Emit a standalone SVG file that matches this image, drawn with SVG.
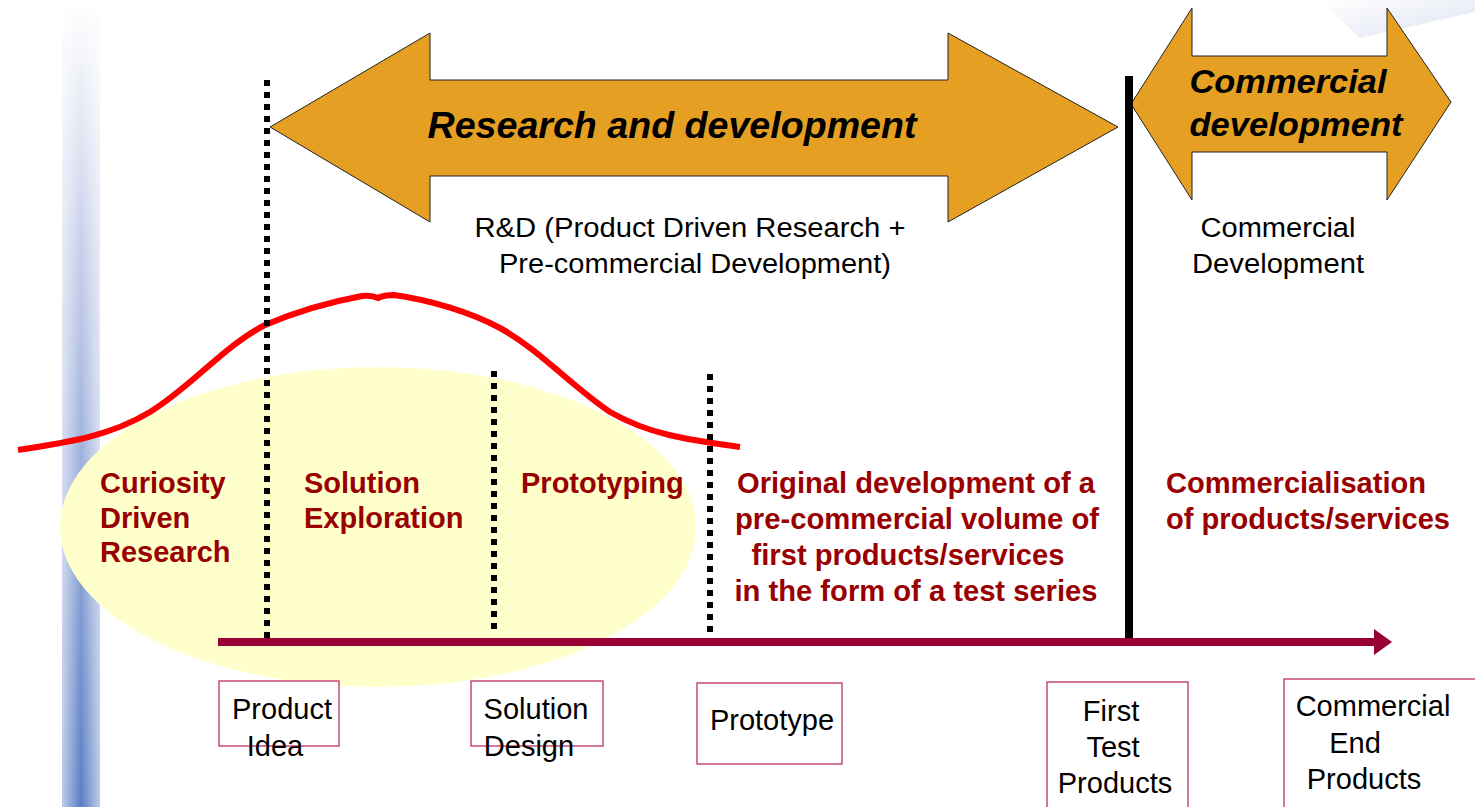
<svg xmlns="http://www.w3.org/2000/svg" width="1475" height="807" viewBox="0 0 1475 807">
<defs>
<linearGradient id="bar" x1="0" y1="0" x2="0" y2="1">
<stop offset="0" stop-color="#ffffff"/>
<stop offset="0.3" stop-color="#c8d0ea"/>
<stop offset="1" stop-color="#5a7ec4"/>
</linearGradient>
<linearGradient id="barH" x1="0" y1="0" x2="1" y2="0">
<stop offset="0" stop-color="#ffffff" stop-opacity="0.6"/>
<stop offset="0.5" stop-color="#ffffff" stop-opacity="0"/>
<stop offset="1" stop-color="#ffffff" stop-opacity="0.6"/>
</linearGradient>
<linearGradient id="tr" x1="0" y1="0" x2="1" y2="1">
<stop offset="0" stop-color="#ffffff"/>
<stop offset="1" stop-color="#d5dcee"/>
</linearGradient>
<marker id="ah" markerWidth="18" markerHeight="26" refX="1" refY="13" orient="auto" markerUnits="userSpaceOnUse">
<path d="M0,0 L18,13 L0,26 Z" fill="#990033"/>
</marker>
</defs>
<style>
.bigarrow{fill:#e5a024;stroke:#222;stroke-width:1}
.title{font-family:"Liberation Sans",Arial,sans-serif;font-weight:bold;font-style:italic;fill:#000}
.lbl{font-family:"Liberation Sans",Arial,sans-serif;font-size:27px;fill:#000}
.blbl{font-family:"Liberation Sans",Arial,sans-serif;font-size:29px;fill:#000}
.red{font-family:"Liberation Sans",Arial,sans-serif;font-size:29px;font-weight:bold;fill:#990000}
.box{fill:#fff;stroke:#b8205a;stroke-width:1.2}
.dot{stroke:#000;stroke-width:6;stroke-dasharray:6 6;fill:none}
</style>
<rect width="1475" height="807" fill="#fff"/>
<rect x="62" y="0" width="38" height="807" fill="url(#bar)"/>
<rect x="62" y="0" width="38" height="807" fill="url(#barH)"/>
<polygon points="1320,0 1475,0 1475,12 1360,38" fill="url(#tr)" opacity="0.8"/>
<ellipse cx="378" cy="527" rx="318" ry="160" fill="#ffffcc"/>
<g id="rd-arrow">
<polygon class="bigarrow" points="270,127 430,33 430,80 948,80 948,33 1118,127 948,222 948,176 430,176 430,222"/>
<text class="title" x="672" y="138" font-size="37" text-anchor="middle" textLength="489" lengthAdjust="spacingAndGlyphs">Research and development</text>
</g>
<g id="comm-arrow">
<polygon class="bigarrow" points="1131,104 1192,8 1192,56 1387,56 1387,8 1451,102 1387,200 1387,152 1192,152 1192,200"/>
<text class="title" x="1288" y="93" font-size="34" text-anchor="middle" textLength="197" lengthAdjust="spacingAndGlyphs">Commercial</text>
<text class="title" x="1296" y="136" font-size="34" text-anchor="middle" textLength="213" lengthAdjust="spacingAndGlyphs">development</text>
</g>
<g id="rd-text">
<text class="lbl" x="690" y="237" text-anchor="middle" textLength="431" lengthAdjust="spacingAndGlyphs">R&amp;D (Product Driven Research +</text>
<text class="lbl" x="695" y="273" text-anchor="middle" textLength="392" lengthAdjust="spacingAndGlyphs">Pre-commercial Development)</text>
</g>
<g id="comm-text">
<text class="lbl" x="1278" y="237" text-anchor="middle" textLength="155" lengthAdjust="spacingAndGlyphs">Commercial</text>
<text class="lbl" x="1278" y="273" text-anchor="middle" textLength="172" lengthAdjust="spacingAndGlyphs">Development</text>
</g>
<g id="curve">
<path d="M18,450 C70,442 110,436 150,412 C190,388 225,345 265,325 C300,310 335,301 362,296 C370,295 374,296 378,298 C382,296 386,295 394,295 C430,300 470,312 500,328 C540,350 570,385 610,412 C650,435 690,440 740,447" fill="none" stroke="#ff0000" stroke-width="6"/>
</g>
<g id="connectors">
<line class="dot" x1="267" y1="80" x2="267" y2="642"/>
<line class="dot" x1="494" y1="371" x2="494" y2="632"/>
<line class="dot" x1="710" y1="374" x2="710" y2="632"/>
<line x1="1129" y1="76" x2="1129" y2="640" stroke="#000" stroke-width="8"/>
<line x1="218" y1="642" x2="1375" y2="642" stroke="#990033" stroke-width="8" marker-end="url(#ah)"/>
</g>
<g id="phase-curiosity">
<text class="red" x="100" y="493">Curiosity</text>
<text class="red" x="100" y="528">Driven</text>
<text class="red" x="100" y="562">Research</text>
</g>
<g id="phase-solution">
<text class="red" x="304" y="493">Solution</text>
<text class="red" x="304" y="528">Exploration</text>
</g>
<g id="phase-prototyping">
<text class="red" x="521" y="493">Prototyping</text>
</g>
<g id="phase-original">
<text class="red" x="916" y="493" text-anchor="middle" textLength="358" lengthAdjust="spacingAndGlyphs">Original development of a</text>
<text class="red" x="917" y="529" text-anchor="middle" textLength="364" lengthAdjust="spacingAndGlyphs">pre-commercial volume of</text>
<text class="red" x="908" y="565" text-anchor="middle" textLength="313" lengthAdjust="spacingAndGlyphs">first products/services</text>
<text class="red" x="916" y="601" text-anchor="middle" textLength="363" lengthAdjust="spacingAndGlyphs">in the form of a test series</text>
</g>
<g id="phase-commercialisation">
<text class="red" x="1296" y="493" text-anchor="middle" textLength="260" lengthAdjust="spacingAndGlyphs">Commercialisation</text>
<text class="red" x="1308" y="529" text-anchor="middle" textLength="284" lengthAdjust="spacingAndGlyphs">of products/services</text>
</g>
<g id="box-product-idea">
<rect class="box" x="219" y="681" width="120" height="65"/>
<text class="blbl" x="282" y="719" text-anchor="middle">Product</text>
<text class="blbl" x="275" y="756" text-anchor="middle">Idea</text>
</g>
<g id="box-solution-design">
<rect class="box" x="471" y="681" width="132" height="65"/>
<text class="blbl" x="536" y="719" text-anchor="middle">Solution</text>
<text class="blbl" x="529" y="756" text-anchor="middle">Design</text>
</g>
<g id="box-prototype">
<rect class="box" x="697" y="683" width="145" height="81"/>
<text class="blbl" x="772" y="730" text-anchor="middle">Prototype</text>
</g>
<g id="box-first-test">
<rect class="box" x="1047" y="682" width="141" height="130"/>
<text class="blbl" x="1111" y="721" text-anchor="middle">First</text>
<text class="blbl" x="1113" y="757" text-anchor="middle">Test</text>
<text class="blbl" x="1115" y="793" text-anchor="middle">Products</text>
</g>
<g id="box-commercial-end">
<rect class="box" x="1284" y="679" width="200" height="133"/>
<text class="blbl" x="1373" y="716" text-anchor="middle">Commercial</text>
<text class="blbl" x="1355" y="753" text-anchor="middle">End</text>
<text class="blbl" x="1364" y="789" text-anchor="middle">Products</text>
</g>
</svg>
